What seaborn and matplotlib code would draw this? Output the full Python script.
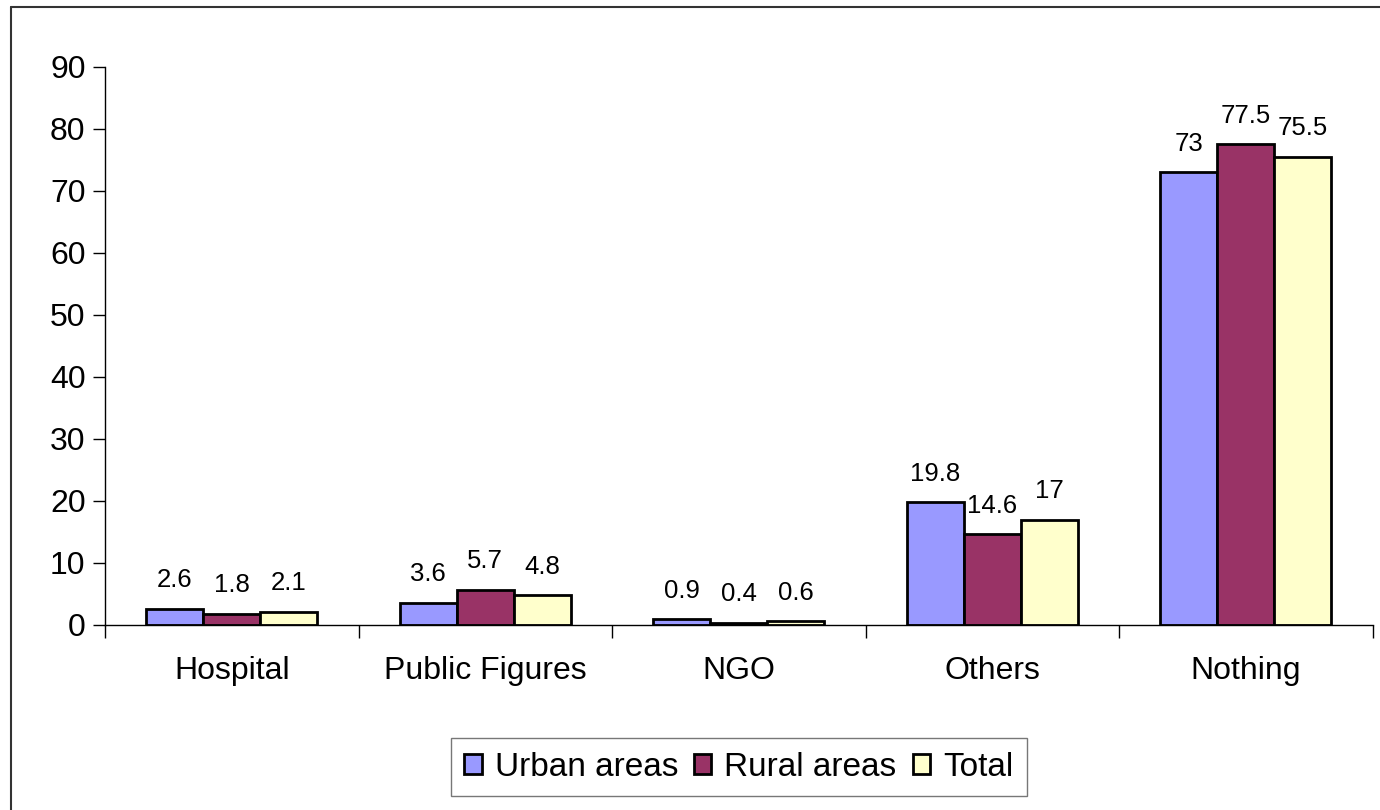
import matplotlib
matplotlib.use("Agg")
import matplotlib.pyplot as plt
import matplotlib.lines as mlines
import pandas as pd
import seaborn as sns

categories = ["Hospital", "Public Figures", "NGO", "Others", "Nothing"]
series = ["Urban areas", "Rural areas", "Total"]
urban = [2.6, 3.6, 0.9, 19.8, 73]
rural = [1.8, 5.7, 0.4, 14.6, 77.5]
total = [2.1, 4.8, 0.6, 17, 75.5]
colors = ["#9999FF", "#993366", "#FFFFCC"]

# tableau long pour seaborn
rows = []
for name, vals in zip(series, [urban, rural, total]):
    for c, v in zip(categories, vals):
        rows.append({"Categorie": c, "Serie": name, "Valeur": v})
df = pd.DataFrame(rows)

sns.set_style("white")
plt.rcParams["font.family"] = ["Liberation Sans", "DejaVu Sans"]
plt.rcParams["text.color"] = "black"
plt.rcParams["xtick.color"] = "black"
plt.rcParams["ytick.color"] = "black"

fig = plt.figure(figsize=(13.8, 8.1), dpi=100)
ax = fig.add_axes([0.0761, 0.2284, 0.9185, 0.6889])

sns.barplot(data=df, x="Categorie", y="Valeur", hue="Serie", order=categories,
            hue_order=series, palette=colors, edgecolor="black", linewidth=2,
            width=0.675, saturation=1, ax=ax, legend=True)

# étiquettes de valeurs
for cont, vals in zip(ax.containers, [urban, rural, total]):
    ax.bar_label(cont, labels=[f"{v:g}" for v in vals], padding=12, fontsize=18.5,
                 color="black")

ax.set_ylim(0, 90)
ax.set_xlim(-0.5, len(categories) - 0.5)
ax.set_yticks(range(0, 91, 10))
ax.tick_params(axis="y", labelsize=23, length=9, width=1, direction="out", left=True, pad=5)
ax.set_xticks([i + 0.5 for i in range(-1, len(categories))], minor=True)
ax.set_xticks(range(len(categories)))
ax.set_xticklabels(categories)
ax.tick_params(axis="x", which="major", length=0, labelsize=23, pad=22)
ax.tick_params(axis="x", which="minor", length=9, width=1, direction="out", bottom=True)
ax.set_xlabel("")
ax.set_ylabel("")
for s in ["top", "right"]:
    ax.spines[s].set_visible(False)
for s in ["left", "bottom"]:
    ax.spines[s].set_color("black")
    ax.spines[s].set_linewidth(1)

leg = ax.legend(loc="center", bbox_to_anchor=(0.5, -0.255), ncol=3, fontsize=24,
                frameon=True, fancybox=False, edgecolor="#555555",
                handlelength=0.52, handleheight=0.52, handletextpad=0.39,
                columnspacing=0.48, borderpad=0.4)
leg.get_frame().set_linewidth(1)
for h in leg.legend_handles:
    h.set_edgecolor("black")
    h.set_linewidth(2)

# cadre extérieur façon Excel
fig.add_artist(mlines.Line2D([10.5 / 1380, 10.5 / 1380], [0, 1 - 6.5 / 810],
                             transform=fig.transFigure, color="#333333", lw=1.5))
fig.add_artist(mlines.Line2D([10.5 / 1380, 1], [1 - 6.5 / 810, 1 - 6.5 / 810],
                             transform=fig.transFigure, color="#333333", lw=1.5))

fig.savefig("out.png", dpi=100)
